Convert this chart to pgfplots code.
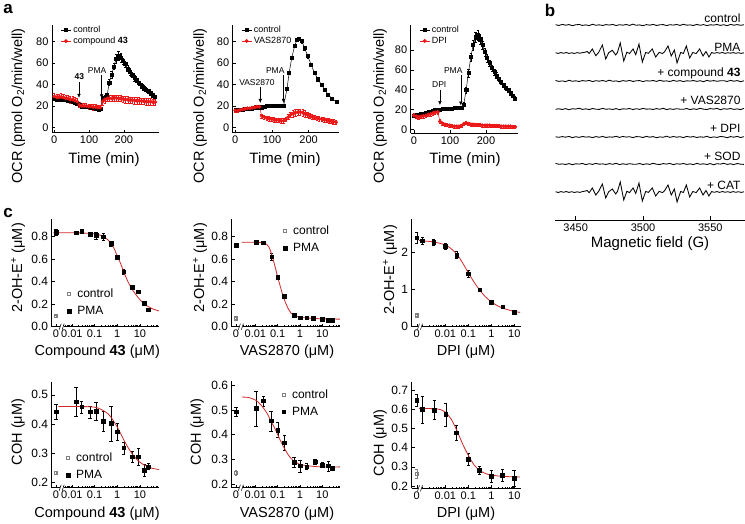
\documentclass[border=0pt]{standalone}
\usepackage{fontspec}
\setmainfont{Liberation Sans}
\usepackage{pgfplots}
\pgfplotsset{compat=1.18}
\usepackage{pgfplotstable}
\usetikzlibrary{arrows.meta}
\definecolor{ared}{RGB}{236,24,24}
\definecolor{fitred}{RGB}{208,40,40}
\newcommand{\fs}[1]{\fontsize{#1}{#1}\selectfont}
\newcommand{\brk}[2]{%
 \fill[white] ([xshift=-2pt,yshift=-1pt]axis cs:#1,#2) rectangle ([xshift=2pt,yshift=1pt]axis cs:#1,#2);
 \draw[line width=0.5pt] ([xshift=-2.5pt,yshift=-3pt]axis cs:#1,#2) -- ([xshift=-0.5pt,yshift=3pt]axis cs:#1,#2);
 \draw[line width=0.5pt] ([xshift=0.5pt,yshift=-3pt]axis cs:#1,#2) -- ([xshift=2.5pt,yshift=3pt]axis cs:#1,#2);}
\pgfplotsset{
 base/.style={scale only axis, anchor=south west, axis x line=bottom, axis y line=left,
   axis line style={-,line width=0.5pt}, tick align=inside, major tick length=3pt,
   minor tick length=1.6pt, tick style={black,line width=0.5pt},
   ticklabel style={font=\fs{11}}, /pgf/number format/assume math mode=true, clip=false},
 aax/.style={base, xtick={0,100,200}, ytick={0,20,40,60,80},
   legend style={draw=none, fill=none, font=\fs{9}, inner sep=0pt, row sep=-1pt, anchor=north west, at={(rel axis cs:0.08,1.01)}},
   legend cell align=left,
   legend image code/.code={\draw[mark repeat=2,mark phase=2,##1] plot coordinates {(0pt,0pt) (5pt,0pt) (10pt,0pt)};}},
 ctlA/.style={black, line width=0.5pt, mark=square*, mark size=1.55pt,
   error bars/y dir=both, error bars/y explicit,
   error bars/error bar style={line width=0.35pt,black},
   error bars/error mark options={rotate=90,mark size=1.2pt,line width=0.35pt,black}},
 redA/.style={ared, line width=0.5pt, mark=*, mark size=1.7pt, mark options={ared},
   error bars/y dir=both, error bars/y explicit,
   error bars/error bar style={line width=0.35pt,ared},
   error bars/error mark options={rotate=90,mark size=1.2pt,line width=0.35pt,ared}},
 cax/.style={base, xticklabel style={font=\fs{11}}, yticklabel style={font=\fs{12}},
   yticklabel style={/pgf/number format/fixed, /pgf/number format/fixed zerofill, /pgf/number format/precision=1},
   legend style={draw=none, fill=none, font=\fs{12}, inner sep=0pt, row sep=3.5pt, anchor=north west},
   legend cell align=left},
 pmaC/.style={only marks, black, mark=square*, mark size=1.8pt,
   legend image code/.code={\path (0pt,0pt) (9pt,0pt); \draw[##1] plot coordinates {(3pt,0pt)};},
   error bars/y dir=both, error bars/y explicit,
   error bars/error bar style={line width=0.4pt,black},
   error bars/error mark options={rotate=90,mark size=1.6pt,line width=0.4pt,black}},
 ctlC/.style={only marks, gray, mark=square, mark size=1.6pt, mark options={draw=gray,line width=0.5pt},
   legend image code/.code={\path (0pt,0pt) (9pt,0pt); \draw[##1] plot coordinates {(3pt,0pt)};},
   error bars/y dir=both, error bars/y explicit,
   error bars/error bar style={line width=0.4pt,gray},
   error bars/error mark options={rotate=90,mark size=1.4pt,line width=0.4pt,gray}},
 fitC/.style={fitred, line width=0.8pt, no marks, smooth, forget plot},
 epr/.style={black, line width=0.85pt, no marks},
 mtA/.style={minor xtick={-2.398,-2.301,-2.222,-2.155,-2.097,-2.046,-1.699,-1.523,-1.398,-1.301,-1.222,-1.155,-1.097,-1.046,-0.699,-0.523,-0.398,-0.301,-0.222,-0.155,-0.097,-0.046,0.301,0.477,0.602,0.699,0.778,0.845,0.903,0.954,1.301,1.477,1.602,1.699,1.778}},
 mtB/.style={minor xtick={-2.523,-2.398,-2.301,-2.222,-2.155,-2.097,-2.046,-1.699,-1.523,-1.398,-1.301,-1.222,-1.155,-1.097,-1.046,-0.699,-0.523,-0.398,-0.301,-0.222,-0.155,-0.097,-0.046,0.301,0.477,0.602,0.699,0.778,0.845,0.903,0.954,1.301,1.477,1.602,1.699,1.778}},
 mtC/.style={minor xtick={-3,-2.699,-2.523,-2.398,-2.301,-2.222,-2.155,-2.097,-2.046,-1.699,-1.523,-1.398,-1.301,-1.222,-1.155,-1.097,-1.046,-0.699,-0.523,-0.398,-0.301,-0.222,-0.155,-0.097,-0.046,0.301,0.477,0.602,0.699,0.778,0.845,0.903,0.954}},
}
\pgfplotstableread{
x ctl c43 vas dpi sod
3435 195.3 139.5 110.7 83.2 56.6
3437.5 194.5 138.6 111.2 82.7 55.7
3440 195.6 139.1 110.5 83.4 56.1
3442.5 194.8 138.4 111.4 82.8 55.5
3445 195.4 139.7 110.2 83.6 56.4
3447.5 194.3 138.7 111.3 82.3 55.3
3450 195.2 139.2 110.9 83.3 56.2
3452.5 195.5 138.5 111.7 82.6 55.9
3455 194.6 139.4 110.6 83.5 56.5
3457.5 195.1 138.9 111.2 82.9 55.4
3460 194.4 139.6 110.4 83.2 56.3
3462.5 195.7 138.4 111.5 82.4 55.6
3465 194.7 139.3 110.8 83.4 56.6
3467.5 195.2 138.8 110.6 82.7 55.8
3470 194.5 139.5 111.6 83.6 56.1
3472.5 195.4 138.6 110.7 82.5 55.5
3475 194.9 139.8 111.1 83.1 56.4
3477.5 195.6 138.7 110.5 82.8 55.7
3480 194.4 139.1 111.4 83.7 56.7
3482.5 195.3 138.3 110.3 82.6 55.4
3485 194.8 139.4 111.2 83.5 56.2
3487.5 195.5 138.8 110.9 82.9 55.6
3490 194.6 139.6 111.5 83.3 56.3
3492.5 195.8 138.5 110.4 82.4 55.8
3495 194.7 139.2 111.3 83.4 55.7
3497.5 195.1 139.4 110.6 83.2 56.5
3500 194.3 138.4 111.6 82.5 55.4
3502.5 195.4 139.3 110.8 83.6 56.2
3505 194.8 138.9 111.1 82.8 55.6
3507.5 195.6 139.5 110.5 83.4 56.7
3510 194.5 138.6 111.4 82.3 55.8
3512.5 195.2 139.7 110.7 83.1 55.5
3515 195.4 138.8 111.7 82.7 56.4
3517.5 194.4 139.1 110.4 83.8 55.9
3520 195.3 138.5 111.2 82.6 56.6
3522.5 194.9 139.6 110.6 83.5 55.3
3525 195.5 138.7 111.3 82.8 56.3
3527.5 194.6 139.4 110.8 83.3 55.8
3530 195.7 138.4 110.7 82.4 56.5
3532.5 194.8 139.2 111.5 83.6 55.6
3535 195.1 138.9 110.4 82.9 56.1
3537.5 194.5 139.5 111.2 83.4 55.4
3540 195.6 138.6 110.6 82.5 56.6
3542.5 194.7 139.3 111.7 83.2 55.7
3545 195.4 138.3 110.8 82.7 56.2
3547.5 194.4 139.6 110.5 83.7 55.5
3550 195.2 138.8 111.4 82.4 56.4
3552.5 194.9 139.4 110.9 83.1 55.2
3555 195.5 138.7 111.6 82.6 56.3
3557.5 194.6 139.2 110.3 83.5 55.9
3560 195.3 139.3 111.3 83.2 56.7
3562.5 194.3 138.5 110.8 82.3 55.6
3565 195.6 139.6 111.5 83.4 56.2
3567.5 194.8 138.8 110.6 82.8 55.4
3570 195.4 139.4 111.1 83.6 56.5
3572.5 194.7 138.3 110.4 82.5 55.8
3575 195.2 139.2 111.6 83.3 55.6
}\eprflat
\begin{document}
\begin{tikzpicture}
\useasboundingbox (0,0) rectangle (745pt,524pt);
% ---------------- a1
\begin{axis}[aax, at={(52pt,391.3pt)}, width=107pt, height=107.7pt, xmin=-6.6, xmax=301, ymin=-5, ymax=95.6]
\addplot[ctlA] table[x=t,y=v,y error=e] {
t v e
0 27 1.5
7 26 1.5
13 25.5 1.5
20 26 1.5
26 27 1.5
33 26 1.5
40 25 1.5
46 24.5 1.5
53 24 1.5
59 23 1.5
66 22 1.5
72 21 1.5
79 19.5 1.5
86 19 1.5
92 19 1.5
99 19 1.5
105 18.5 1.5
112 18 1.5
119 17.5 1.5
125 17 1.5
132 17 1.5
139 27 2
145 28 2
152 30 2
158 42 3
165 49 3
171 57 3
178 64 4
185 67 4
191 65 4
198 62 3
204 59 3
211 55 3
218 52 3
224 49 2.5
231 46 2.5
237 44 2
244 41.5 2
251 39 2
257 37 2
264 35.5 2
270 34 2
277 32 2
284 30 2
290 28.5 2
};
\addlegendentry{control}
\addplot[redA] table[x=t,y=v,y error=e] {
t v e
0 29 3
7 28 3
13 28 3
20 28.5 3
26 28 3
33 27 3
40 27 3
46 26 3
53 26 3
59 25 3
66 24 3
72 21 2.5
79 20 2.5
86 20 2.5
92 20 2.5
99 19.5 2.5
105 19.5 2.5
112 19 2.5
119 19 2.5
125 18.5 2.5
132 18.5 2.5
139 24 3
145 26 3
152 27 3
158 27 3
165 27 3
171 27.5 3
178 27.5 3
185 27 3
191 27 3
198 26.5 3
204 26 3
211 26 3
218 25.5 3
224 25.5 3
231 25 3
237 25 3
244 25 3
251 24.5 3
257 24.5 3
264 24 3
270 24 3
277 24 3
284 23.5 3
290 23.5 3
};
\addlegendentry{compound \textbf{43}}
\draw[line width=0.5pt,-{Latex[length=4pt,width=3.5pt]}] (axis cs:71,42) -- (axis cs:71,27.5);
\node[font=\fs{8.5}\bfseries] at (axis cs:72,47) {43};
\draw[line width=0.5pt,-{Latex[length=4pt,width=3.5pt]}] (axis cs:136,49) -- (axis cs:136,27);
\node[font=\fs{8.5}] at (axis cs:123,53) {PMA};
\end{axis}
% ---------------- a2
\begin{axis}[aax, at={(232.7pt,391.3pt)}, width=106.3pt, height=107.7pt, xmin=-7.1, xmax=283, ymin=-4.65, ymax=95.5]
\addplot[ctlA] table[x=t,y=v,y error=e] {
t v e
0 17 1
7 16.5 1
13 16.5 1
20 17 1
26 17.5 1
33 17.5 1
40 18 1
46 18 1
53 18.5 1
59 19 1
66 19 1
72 19 1
79 19.5 1
86 20 1
92 20 1
99 20 1
105 20 1
112 20 1
119 20 1
125 20.5 1
132 20.5 1
141 36 1.5
147 51 1.5
154 65 1.5
162 76 1.5
168 81.5 1.5
174 82.5 1.5
182 80.5 1.5
189 74 1.5
198 66.5 1.5
207 58.5 1.5
216 51 1.5
226 45 1.5
235 40 1.5
244 35.5 1.5
253 31 1.5
264 27 1.5
276 24 1.5
};
\addlegendentry{control}
\addplot[redA] table[x=t,y=v,y error=e] {
t v e
0 16 1.5
7 16 1.5
13 16.5 1.5
20 17 1.5
26 17.5 1.5
33 18 1.5
40 18 1.5
46 18.5 1.5
53 19 1.5
59 19.5 1.5
66 19.5 1.5
72 11 2
79 10 2
86 9 2
92 8.5 2
99 8 2
105 7.5 2
112 7 2
119 7 2
125 6.5 2
132 6.5 2
138 8 2
145 10 2.5
151 12 2.5
158 13 3
164 14 3
171 14.5 3
177 14.5 3
184 14 3
190 13 3
197 12 2.5
203 11 2.5
210 10 2.5
216 9.5 2
223 9 2
229 8.5 2
236 8 2
242 7.5 2
249 7 2
255 6.5 2
262 6 2
268 5.5 2
275 5 2
};
\addlegendentry{VAS2870}
\draw[line width=0.5pt,-{Latex[length=4pt,width=3.5pt]}] (axis cs:68,38) -- (axis cs:68,23);
\node[font=\fs{8.5}] at (axis cs:59,42) {VAS2870};
\draw[line width=0.5pt,-{Latex[length=4pt,width=3.5pt]}] (axis cs:131.5,49) -- (axis cs:131.5,23);
\node[font=\fs{8.5}] at (axis cs:109,53) {PMA};
\end{axis}
% ---------------- a3
\begin{axis}[aax, at={(410.7pt,391pt)}, width=107pt, height=108pt, xmin=-9.2, xmax=288, ymin=-3.7, ymax=105.4]
\addplot[ctlA] table[x=t,y=v,y error=e] {
t v e
0 14 1
7 14.5 1
13 15 1
20 15.5 1
26 16 1
33 17 1
40 17.5 1
46 18 1
53 19 1
59 19.5 1
66 20 1
72 20 1
79 20.5 1
86 20.5 1
92 21 1
99 21 1
105 21 1
112 21.5 1
119 21.5 1
125 21.5 1
132 22 1
138 25 2
145 40 3
151 57 4
158 73 4
164 85 5
171 93 5
177 95 5
184 91 5
190 85 4
197 78 4
203 72 4
210 67 3
216 62 3
223 58 3
229 54.5 3
236 51 2
242 48 2
249 45 2
255 42 2
262 39.5 2
268 37 2
275 34 2
281 31 2
};
\addlegendentry{control}
\addplot[redA] table[x=t,y=v,y error=e] {
t v e
0 14 2
7 13 2
13 12.5 2
20 13 2
26 13.5 2
33 14 2
40 15 2
46 15.5 2
53 16.5 2
59 17 2
66 17.5 2
72 8 2
79 6 1.5
86 5 1.5
92 4.5 1.5
99 4 1.5
105 3.5 1.5
112 3 1.5
119 3 1.5
125 3 1.5
132 3.5 1.5
138 5.5 1.5
145 6.5 1.5
151 5.5 1.5
158 5 1.5
164 5 1.5
171 4.5 1.5
177 4.5 1.5
184 4.5 1.5
190 4 1.5
197 4 1.5
203 4 1.5
210 4 1.5
216 3.5 1.5
223 3.5 1.5
229 3.5 1.5
236 3.5 1.5
242 3 1.5
249 3 1.5
255 3 1.5
262 3 1.5
268 3 1.5
275 2.5 1.5
281 2.5 1.5
};
\addlegendentry{DPI}
\draw[line width=0.5pt,-{Latex[length=4pt,width=3.5pt]}] (axis cs:72,40) -- (axis cs:72,24.5);
\node[font=\fs{8.5}] at (axis cs:70,45) {DPI};
\draw[line width=0.5pt,-{Latex[length=4pt,width=3.5pt]}] (axis cs:130,55) -- (axis cs:130,24);
\node[font=\fs{8.5}] at (axis cs:109,59) {PMA};
\end{axis}
% ---------------- b
\begin{axis}[scale only axis, anchor=south west, at={(555pt,304pt)}, width=190pt, height=210pt,
  xmin=3434.6, xmax=3575.8, ymin=0, ymax=210, axis x line=bottom, axis y line=none,
  axis line style={-,line width=0.5pt}, tick align=inside, major tick length=3.5pt,
  tick style={black,line width=0.5pt}, xtick={3450,3500,3550},
  ticklabel style={font=\fs{11}}, /pgf/number format/assume math mode=true,
  /pgf/number format/1000 sep={}, clip=false]
\addplot[epr] table[x=x,y=ctl] {\eprflat};
\addplot[epr] coordinates {(3435,167.3)(3437,166.6)(3439,167.4)(3441,166.7)(3443,167.5)(3445,166.6)(3447,167.2)(3449,166.5)(3451,167.4)(3453,166.8)(3455,167.3)(3457,167.8)(3458.5,168.5)(3460,166.5)(3462.3,171)(3464.9,164.3)(3467,167.5)(3469.8,175)(3472.3,161)(3474.5,167.3)(3477.2,169.7)(3479.7,165)(3481,167.5)(3483.1,177)(3485.7,159)(3488,167.8)(3490,166.5)(3492.6,171)(3494.6,165.3)(3497,176)(3499.5,158)(3502,167.5)(3504,166.7)(3506.9,171)(3509.4,163)(3512,167.6)(3514.5,166.5)(3516,168.2)(3518.6,174)(3521,164)(3523.3,170)(3525.3,157)(3528,167.5)(3530,166.5)(3532.2,174)(3534.7,162)(3537,167.5)(3539.5,166.4)(3542.1,171)(3544.6,164)(3546.8,168.5)(3549,163)(3551,167.4)(3553,166.7)(3555,167.4)(3557,166.8)(3559,167.5)(3561,166.6)(3563,167.3)(3565,166.8)(3567,167.4)(3569,166.7)(3571,167.3)(3573,166.6)(3575,167.2)};
\addplot[epr] table[x=x,y=c43] {\eprflat};
\addplot[epr] table[x=x,y=vas] {\eprflat};
\addplot[epr] table[x=x,y=dpi] {\eprflat};
\addplot[epr] table[x=x,y=sod] {\eprflat};
\addplot[epr] coordinates {(3435,28.3)(3437,27.5)(3439,28.4)(3441,27.7)(3443,28.5)(3445,27.6)(3447,28.3)(3449,27.5)(3451,28.2)(3453,27.6)(3455,28.4)(3457,28.9)(3458.5,29.5)(3460,27.3)(3462.3,32)(3464.9,25)(3467,28.6)(3469.8,36)(3472.3,22)(3474.5,28.3)(3477.2,31)(3479.7,26)(3481,28.5)(3483.1,38)(3485.7,20)(3488,28.7)(3490,27.4)(3492.6,32)(3494.6,26.5)(3497,37)(3499.5,19)(3502,28.5)(3504,27.6)(3506.9,32)(3509.4,24)(3512,28.6)(3514.5,27.4)(3516,29.3)(3518.6,35)(3521,25)(3523.3,31)(3525.3,18)(3528,28.5)(3530,27.5)(3532.2,35)(3534.7,23)(3537,28.5)(3539.5,27.4)(3542.1,32)(3544.6,25)(3546.8,29.5)(3549,24)(3551,28.4)(3553,27.7)(3555,28.4)(3557,27.6)(3559,28.5)(3561,27.7)(3563,28.3)(3565,27.6)(3567,28.4)(3569,27.7)(3571,28.3)(3573,27.6)(3575,28.2)};
\end{axis}
% ---------------- c1
\begin{axis}[cax, mtA, at={(51.7pt,197.3pt)}, width=107.3pt, height=107.4pt, xmin=-2.89, xmax=1.84, ymin=0, ymax=0.955,
  xtick={-2.7,-2,-1,0,1}, xticklabels={0,0.01,0.1,1,10}, ytick={0,0.2,0.4,0.6,0.8},
  legend style={at={(rel axis cs:0.13,0.375)}}]
\addplot[ctlC] coordinates {(-2.7,0.095) +- (0,0.008)};
\addlegendentry{control}
\addplot[pmaC] coordinates {(-2.7,0.838) +- (0,0.025) (-1.82,0.835) +- (0,0.012) (-1.57,0.848) +- (0,0.008) (-1.2,0.82) +- (0,0.015) (-0.94,0.812) +- (0,0.03) (-0.62,0.80) +- (0,0.03) (-0.28,0.74) +- (0,0.02) (0,0.62) +- (0,0.01) (0.29,0.49) +- (0,0.02) (0.66,0.35) +- (0,0.01) (0.93,0.31) +- (0,0.01) (1.19,0.21) +- (0,0.01) (1.37,0.15) +- (0,0.01)};
\addlegendentry{PMA}
\addplot[fitC] coordinates {(-2.82,0.835)(-2,0.835)(-1.5,0.833)(-1,0.825)(-0.7,0.81)(-0.4,0.77)(-0.2,0.72)(0,0.63)(0.15,0.56)(0.3,0.48)(0.45,0.41)(0.6,0.35)(0.8,0.29)(1.0,0.24)(1.2,0.2)(1.4,0.175)(1.6,0.155)(1.84,0.14)};
\brk{-2.45}{0}
\end{axis}
% ---------------- c2
\begin{axis}[cax, mtB, at={(231.7pt,197.3pt)}, width=108.3pt, height=107.4pt, xmin=-3.06, xmax=1.79, ymin=0, ymax=0.955,
  xtick={-2.87,-2,-1,0,1}, xticklabels={0,0.01,0.1,1,10}, ytick={0,0.2,0.4,0.6,0.8},
  legend style={at={(rel axis cs:0.46,0.96)}}]
\addplot[ctlC] coordinates {(-2.87,0.075) +- (0,0.012)};
\addlegendentry{control}
\addplot[pmaC] coordinates {(-2.87,0.726) +- (0,0.02) (-1.97,0.75) +- (0,0.012) (-1.65,0.747) +- (0,0.01) (-1.27,0.622) +- (0,0.03) (-1.0,0.439) +- (0,0.02) (-0.70,0.273) +- (0,0.012) (-0.27,0.101) +- (0,0.01) (0,0.08) +- (0,0.008) (0.30,0.08) +- (0,0.008) (0.60,0.075) +- (0,0.008) (1.0,0.068) +- (0,0.008) (1.27,0.06) +- (0,0.01) (1.45,0.06) +- (0,0.01)};
\addlegendentry{PMA}
\addplot[fitC] coordinates {(-2.6,0.75)(-2,0.75)(-1.6,0.745)(-1.4,0.71)(-1.25,0.63)(-1.1,0.52)(-1.0,0.44)(-0.9,0.37)(-0.8,0.3)(-0.7,0.24)(-0.6,0.19)(-0.5,0.15)(-0.4,0.12)(-0.2,0.095)(0,0.083)(0.5,0.075)(1,0.07)(1.79,0.067)};
\brk{-2.65}{0}
\end{axis}
% ---------------- c3
\begin{axis}[cax, mtC, at={(411.7pt,197.3pt)}, width=109.3pt, height=107.4pt, xmin=-3.46, xmax=1.29, ymin=0, ymax=2.89,
  xtick={-3.24,-2,-1,0,1}, xticklabels={0,0.01,0.1,1,10}, ytick={0,1,2},
  yticklabel style={/pgf/number format/precision=0}]
\addplot[ctlC, forget plot] coordinates {(-3.24,0.31) +- (0,0.03)};
\addplot[pmaC, forget plot] coordinates {(-3.24,2.39) +- (0,0.15) (-3,2.31) +- (0,0.1) (-2.5,2.27) +- (0,0.08) (-2,2.17) +- (0,0.08) (-1.5,1.93) +- (0,0.1) (-1,1.43) +- (0,0.1) (-0.5,1.0) +- (0,0.04) (0,0.66) +- (0,0.05) (0.5,0.54) +- (0,0.03) (1,0.39) +- (0,0.03)};
\addplot[fitC] coordinates {(-3.15,2.32)(-3,2.31)(-2.5,2.28)(-2,2.2)(-1.75,2.1)(-1.5,1.95)(-1.25,1.72)(-1,1.45)(-0.75,1.2)(-0.5,0.98)(-0.25,0.8)(0,0.67)(0.25,0.57)(0.5,0.5)(0.75,0.45)(1,0.41)(1.25,0.385)};
\brk{-3.1}{0}
\end{axis}
% ---------------- c4
\begin{axis}[cax, mtA, at={(51.7pt,36.3pt)}, width=107.3pt, height=106pt, xmin=-2.89, xmax=1.84, ymin=0.183, ymax=0.545,
  xtick={-2.7,-2,-1,0,1}, xticklabels={0,0.01,0.1,1,10}, ytick={0.2,0.3,0.4,0.5},
  legend style={at={(rel axis cs:0.12,0.35)}}]
\addplot[ctlC] coordinates {(-2.7,0.234) +- (0,0.004)};
\addlegendentry{control}
\addplot[pmaC] coordinates {(-2.7,0.442) +- (0,0.025) (-1.82,0.476) +- (0,0.05) (-1.57,0.459) +- (0,0.02) (-1.2,0.442) +- (0,0.02) (-0.94,0.445) +- (0,0.03) (-0.62,0.41) +- (0,0.035) (-0.28,0.403) +- (0,0.06) (0,0.374) +- (0,0.03) (0.29,0.319) +- (0,0.02) (0.66,0.289) +- (0,0.02) (0.93,0.289) +- (0,0.03) (1.19,0.243) +- (0,0.02) (1.37,0.255) +- (0,0.01)};
\addlegendentry{PMA}
\addplot[fitC] coordinates {(-2.6,0.46)(-1.5,0.46)(-1,0.458)(-0.7,0.45)(-0.4,0.435)(-0.2,0.415)(0,0.39)(0.2,0.36)(0.4,0.33)(0.6,0.305)(0.8,0.285)(1.0,0.27)(1.2,0.26)(1.5,0.25)(1.84,0.245)};
\brk{-2.45}{0.183}
\end{axis}
% ---------------- c5
\begin{axis}[cax, mtB, at={(231.7pt,36.3pt)}, width=108.3pt, height=107pt, xmin=-3.06, xmax=1.79, ymin=0.186, ymax=0.618,
  xtick={-2.87,-2,-1,0,1}, xticklabels={0,0.01,0.1,1,10}, ytick={0.2,0.3,0.4,0.5,0.6},
  legend style={at={(rel axis cs:0.45,0.94)}}]
\addplot[ctlC] coordinates {(-2.87,0.247) +- (0,0.01)};
\addlegendentry{control}
\addplot[pmaC] coordinates {(-2.87,0.493) +- (0,0.02) (-1.97,0.506) +- (0,0.07) (-1.65,0.537) +- (0,0.02) (-1.30,0.456) +- (0,0.04) (-1.0,0.419) +- (0,0.03) (-0.70,0.368) +- (0,0.03) (-0.27,0.289) +- (0,0.02) (0,0.274) +- (0,0.025) (0.30,0.271) +- (0,0.012) (0.67,0.291) +- (0,0.012) (1.0,0.278) +- (0,0.01) (1.27,0.274) +- (0,0.02) (1.45,0.265) +- (0,0.008)};
\addlegendentry{PMA}
\addplot[fitC] coordinates {(-2.6,0.552)(-2.3,0.55)(-2,0.54)(-1.75,0.52)(-1.5,0.49)(-1.3,0.455)(-1.1,0.42)(-0.9,0.38)(-0.7,0.345)(-0.5,0.315)(-0.3,0.295)(0,0.28)(0.5,0.273)(1,0.27)(1.79,0.27)};
\brk{-2.65}{0.186}
\end{axis}
% ---------------- c6
\begin{axis}[cax, mtC, at={(411.7pt,35.7pt)}, width=109.3pt, height=106.6pt, xmin=-3.46, xmax=1.29, ymin=0.188, ymax=0.744,
  xtick={-3.24,-2,-1,0,1}, xticklabels={0,0.01,0.1,1,10}, ytick={0.2,0.3,0.4,0.5,0.6,0.7}]
\addplot[ctlC, forget plot] coordinates {(-3.24,0.265) +- (0,0.025)};
\addplot[pmaC, forget plot] coordinates {(-3.24,0.648) +- (0,0.03) (-3,0.6) +- (0,0.07) (-2.48,0.596) +- (0,0.05) (-1.98,0.573) +- (0,0.06) (-1.53,0.478) +- (0,0.04) (-1.0,0.341) +- (0,0.03) (-0.52,0.283) +- (0,0.02) (0,0.252) +- (0,0.03) (0.48,0.257) +- (0,0.03) (0.99,0.24) +- (0,0.04)};
\addplot[fitC] coordinates {(-3.15,0.605)(-2.5,0.603)(-2.2,0.598)(-2,0.585)(-1.75,0.55)(-1.5,0.49)(-1.25,0.42)(-1,0.36)(-0.75,0.31)(-0.5,0.28)(-0.25,0.265)(0,0.257)(0.5,0.25)(1,0.248)(1.25,0.247)};
\brk{-3.1}{0.188}
\end{axis}
% ---------------- labels
\node[font=\fs{17}\bfseries] at (8pt,515pt) {a};
\node[font=\fs{17}\bfseries] at (550pt,514pt) {b};
\node[font=\fs{17}\bfseries] at (8pt,311pt) {c};
\node[font=\fs{14.5},rotate=90] at (18.3pt,418pt) {OCR (pmol O\textsubscript{2}/min/well)};
\node[font=\fs{14.5},rotate=90] at (200pt,418pt) {OCR (pmol O\textsubscript{2}/min/well)};
\node[font=\fs{14.5},rotate=90] at (380pt,418pt) {OCR (pmol O\textsubscript{2}/min/well)};
\node[font=\fs{15}] at (104pt,364pt) {Time (min)};
\node[font=\fs{15}] at (285pt,364pt) {Time (min)};
\node[font=\fs{15}] at (465pt,364pt) {Time (min)};
\node[font=\fs{12},anchor=east] at (744pt,506pt) {control};
\node[font=\fs{12},anchor=east] at (744pt,477pt) {PMA};
\node[font=\fs{12},anchor=east] at (744pt,450.5pt) {+ compound \textbf{43}};
\node[font=\fs{12},anchor=east] at (744pt,424pt) {+ VAS2870};
\node[font=\fs{12},anchor=east] at (744pt,396pt) {+ DPI};
\node[font=\fs{12},anchor=east] at (744pt,367.5pt) {+ SOD};
\node[font=\fs{12},anchor=east] at (744pt,339pt) {+ CAT};
\node[font=\fs{15}] at (650pt,280pt) {Magnetic field (G)};
\node[font=\fs{14.5},rotate=90] at (18pt,256pt) {2-OH-E\textsuperscript{+} (μM)};
\node[font=\fs{14.5},rotate=90] at (200pt,256pt) {2-OH-E\textsuperscript{+} (μM)};
\node[font=\fs{14.5},rotate=90] at (390pt,254pt) {2-OH-E\textsuperscript{+} (μM)};
\node[font=\fs{14.5}] at (97.3pt,172pt) {Compound \textbf{43} (μM)};
\node[font=\fs{14.5}] at (287pt,172pt) {VAS2870 (μM)};
\node[font=\fs{14.5}] at (466pt,172pt) {DPI (μM)};
\node[font=\fs{14.5},rotate=90] at (18pt,92pt) {COH (μM)};
\node[font=\fs{14.5},rotate=90] at (197pt,92pt) {COH (μM)};
\node[font=\fs{14.5},rotate=90] at (380pt,81pt) {COH (μM)};
\node[font=\fs{14.5}] at (97pt,10pt) {Compound \textbf{43} (μM)};
\node[font=\fs{14.5}] at (287pt,10pt) {VAS2870 (μM)};
\node[font=\fs{14.5}] at (466pt,10pt) {DPI (μM)};
\end{tikzpicture}
\end{document}
